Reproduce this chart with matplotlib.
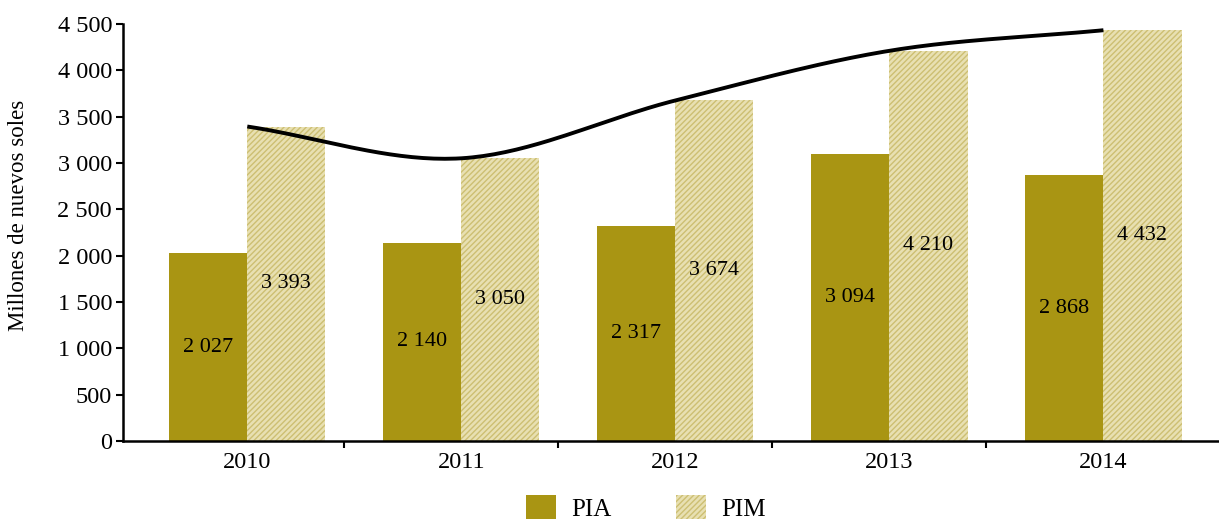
import numpy as np
import matplotlib.pyplot as plt
from matplotlib.patches import Patch

years = ["2010", "2011", "2012", "2013", "2014"]
pia = [2027, 2140, 2317, 3094, 2868]
pim = [3393, 3050, 3674, 4210, 4432]

PIA_COLOR = "#a99513"
PIM_FILL = "#e8e0b2"
PIM_HATCH = "#cdbf72"

plt.rcParams['font.family'] = ['Liberation Serif', 'DejaVu Serif']
plt.rcParams['hatch.linewidth'] = 1.0


def fmt(v):
    return f"{v:,}".replace(",", " ")


def smooth(xp, yp, n=40):
    # Catmull-Rom through the points, like a smoothed line in a spreadsheet
    xp = np.asarray(xp, float)
    yp = np.asarray(yp, float)
    px = np.concatenate([[2 * xp[0] - xp[1]], xp, [2 * xp[-1] - xp[-2]]])
    py = np.concatenate([[2 * yp[0] - yp[1]], yp, [2 * yp[-1] - yp[-2]]])
    ox, oy = [], []
    t = np.linspace(0, 1, n)
    for i in range(1, len(px) - 2):
        for arr, out in ((px, ox), (py, oy)):
            p0, p1, p2, p3 = arr[i - 1], arr[i], arr[i + 1], arr[i + 2]
            out.extend(0.5 * (2 * p1 + (-p0 + p2) * t
                              + (2 * p0 - 5 * p1 + 4 * p2 - p3) * t ** 2
                              + (-p0 + 3 * p1 - 3 * p2 + p3) * t ** 3))
    return np.array(ox), np.array(oy)


fig = plt.figure(figsize=(12.19, 5.2), dpi=100)
ax = fig.add_axes([0.101, 0.152, 0.899, 0.802])

x = np.arange(len(years))
w = 0.365
b1 = ax.bar(x - w / 2, pia, w, color=PIA_COLOR, linewidth=0)
b2 = ax.bar(x + w / 2, pim, w, color=PIM_FILL, edgecolor=PIM_HATCH,
            hatch="//////", linewidth=0)

for rect, v in zip(b1, pia):
    ax.text(rect.get_x() + rect.get_width() / 2, v / 2, fmt(v),
            ha="center", va="center", fontsize=16)
for rect, v in zip(b2, pim):
    ax.text(rect.get_x() + rect.get_width() / 2, v / 2, fmt(v),
            ha="center", va="center", fontsize=16)

# smoothed line over PIM
lx, ly = smooth(x, pim)
ax.plot(lx, ly, color="black", lw=2.8, solid_capstyle="butt")

ax.set_xlim(-0.58, 4.54)
ax.set_ylim(0, 4500)
ax.set_yticks(np.arange(0, 4501, 500))
ax.set_yticklabels([fmt(v) for v in range(0, 4501, 500)])
ax.set_xticks(x)
ax.set_xticklabels(years)
ax.set_xticks(np.arange(0.45, 4, 1), minor=True)
ax.tick_params(axis="x", which="major", length=0, pad=8, labelsize=17.5)
ax.tick_params(axis="x", which="minor", length=5, width=1.5, direction="out")
ax.tick_params(axis="y", length=5, width=1.5, direction="out", labelsize=17.5, pad=3)
ax.set_ylabel("Millones de nuevos soles", fontsize=16.5)
ax.yaxis.set_label_coords(-0.086, 0.54)

for s in ["top", "right"]:
    ax.spines[s].set_visible(False)
for s in ["left", "bottom"]:
    ax.spines[s].set_linewidth(1.8)

handles = [Patch(facecolor=PIA_COLOR, linewidth=0),
           Patch(facecolor=PIM_FILL, edgecolor=PIM_HATCH, hatch="//////", linewidth=0)]
fig.legend(handles, ["PIA", "PIM"], loc="lower center", bbox_to_anchor=(0.53, -0.045),
           ncol=2, frameon=False, fontsize=18, handlelength=1.2, handleheight=1.1,
           columnspacing=2.6, handletextpad=0.6)

fig.savefig("out.png", dpi=100)
